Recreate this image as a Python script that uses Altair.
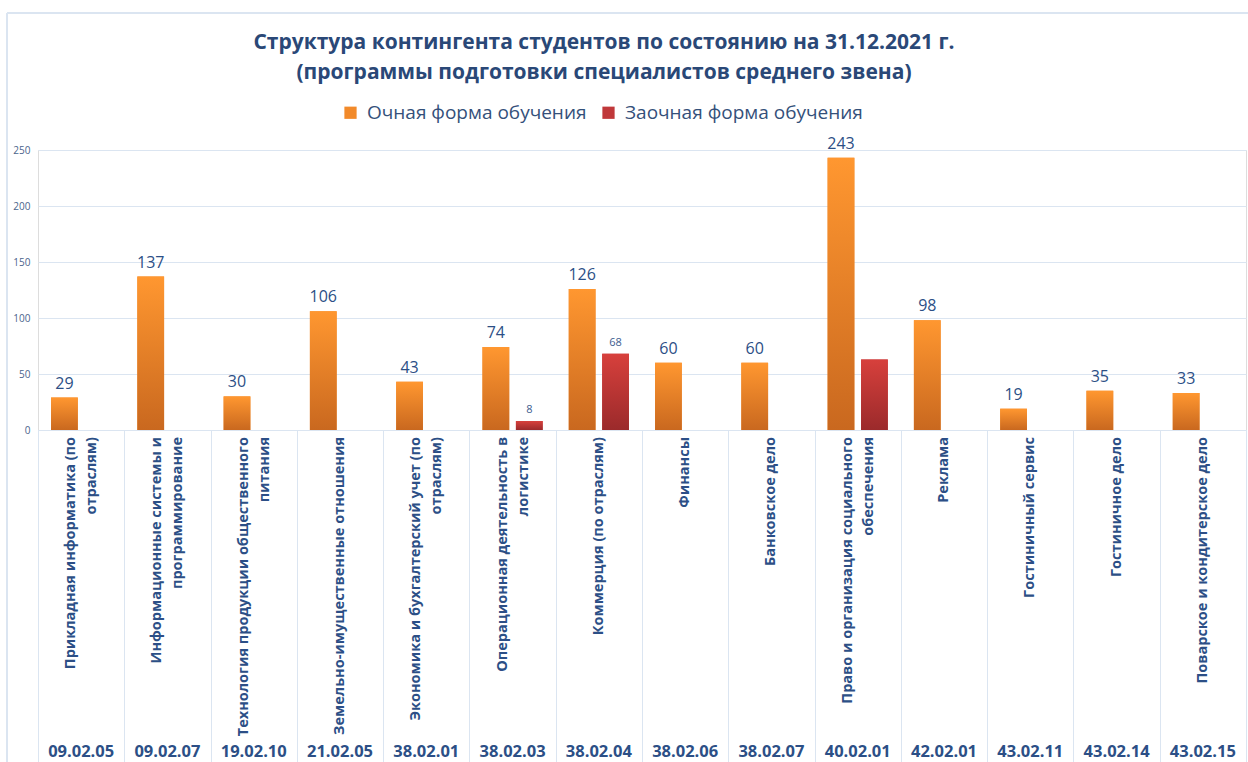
import altair as alt
import pandas as pd

codes = ["09.02.05", "09.02.07", "19.02.10", "21.02.05", "38.02.01", "38.02.03", "38.02.04",
         "38.02.06", "38.02.07", "40.02.01", "42.02.01", "43.02.11", "43.02.14", "43.02.15"]
names = [
    "Прикладная информатика (по|отраслям)",
    "Информационные системы и|программирование",
    "Технология продукции общественного|питания",
    "Земельно-имущественные отношения",
    "Экономика и бухгалтерский учет (по|отраслям)",
    "Операционная деятельность в|логистике",
    "Коммерция (по отраслям)",
    "Финансы",
    "Банковское дело",
    "Право и организация социального|обеспечения",
    "Реклама",
    "Гостиничный сервис",
    "Гостиничное дело",
    "Поварское и кондитерское дело",
]
ochnaya = [29, 137, 30, 106, 43, 74, 126, 60, 60, 243, 98, 19, 35, 33]
zaochnaya = [0, 0, 0, 0, 0, 8, 68, 0, 0, 63, 0, 0, 0, 0]
zaochnaya_labels = ["", "", "", "", "", "8", "68", "", "", "", "", "", "", ""]
series = ["Очная форма обучения", "Заочная форма обучения"]
y_ticks = [0, 50, 100, 150, 200, 250]

rows = []
for c, n, o, z, zl in zip(codes, names, ochnaya, zaochnaya, zaochnaya_labels):
    rows.append({"code": c, "name": n, "series": series[0], "value": o, "label": str(o),
                 "multi": "|" in n})
    rows.append({"code": c, "name": n, "series": series[1], "value": z, "label": zl,
                 "multi": "|" in n})
df = pd.DataFrame(rows)

FONT = "Open Sans"
BLUE = "#2c4f86"
GRID = "#dbe5f1"

x_enc = alt.X("name:N", sort=names, scale=alt.Scale(paddingInner=0, paddingOuter=0),
              axis=alt.Axis(title=None, labels=False, tickBand="extent", tickSize=332,
                            tickColor=GRID, domainColor=GRID, grid=False))
xo_enc = alt.XOffset("series:N", sort=series,
                     scale=alt.Scale(domain=series, paddingInner=0.2, paddingOuter=0.39))
y_enc = alt.Y("value:Q", scale=alt.Scale(domain=[0, 250]),
              axis=alt.Axis(title=None, values=y_ticks, labelFont=FONT, labelFontSize=10,
                            labelColor="#4a648c", ticks=False, domain=False, gridColor=GRID,
                            labelPadding=8))

base = alt.Chart(df).encode(x=x_enc, xOffset=xo_enc, y=y_enc)

legend_bars = base.transform_filter("datum.value > 0").mark_bar().encode(
    color=alt.Color("series:N", sort=series,
                    scale=alt.Scale(domain=series, range=["#f28a2a", "#c0383a"]),
                    legend=alt.Legend(title=None, orient="none", legendX=303, legendY=-47,
                                      direction="horizontal", labelFont=FONT, labelFontSize=19,
                                      labelColor="#34507a", symbolType="square", symbolSize=150,
                                      symbolStrokeWidth=0, columnPadding=12, labelOffset=7,
                                      labelLimit=0))
)

grad_o = alt.Gradient(gradient="linear", x1=0, x2=0, y1=0, y2=1,
                      stops=[alt.GradientStop(color="#ff9730", offset=0),
                             alt.GradientStop(color="#c9681f", offset=1)])
grad_z = alt.Gradient(gradient="linear", x1=0, x2=0, y1=0, y2=1,
                      stops=[alt.GradientStop(color="#d7403c", offset=0),
                             alt.GradientStop(color="#9b2a2b", offset=1)])

bars_o = base.transform_filter(alt.datum.series == series[0]).mark_bar(color=grad_o)
bars_z = base.transform_filter(f"datum.series == '{series[1]}' && datum.value > 0").mark_bar(color=grad_z)

text_o = base.transform_filter(alt.datum.series == series[0]).mark_text(
    dy=-14, font=FONT, fontSize=16, color=BLUE).encode(text="label:N")
text_z = base.transform_filter(f"datum.series == '{series[1]}' && datum.label != ''").mark_text(
    dy=-11, font=FONT, fontSize=11, color="#3d5d8f").encode(text="label:N")

first = alt.Chart(df).transform_filter(alt.datum.series == series[0])

code_text = first.mark_text(
    font=FONT, fontSize=16.5, fontWeight="bold", color=BLUE, baseline="middle"
).encode(x=alt.X("name:N", sort=names), y=alt.value(602), text="code:N")

name_style = dict(font=FONT, fontSize=14.5, fontWeight="bold", color=BLUE, angle=270,
                  align="right", baseline="middle", lineBreak="|", lineHeight=21)
names_single = first.transform_filter("!datum.multi").mark_text(**name_style).encode(
    x=alt.X("name:N", sort=names), y=alt.value(287), text="name:N")
names_multi = first.transform_filter("datum.multi").mark_text(dy=-10, **name_style).encode(
    x=alt.X("name:N", sort=names), y=alt.value(287), text="name:N")

frame_left = alt.Chart(df).mark_rule(color=GRID, strokeWidth=1.5).encode(
    x=alt.value(-31), y=alt.value(-137), y2=alt.value(612))
frame_top = alt.Chart(df).mark_rule(color=GRID, strokeWidth=1.5).encode(
    x=alt.value(-31), x2=alt.value(1215), y=alt.value(-137))

chart = alt.layer(frame_left, frame_top, legend_bars, bars_o, bars_z, text_o, text_z,
                  names_single, names_multi, code_text).properties(
    width=1208, height=280,
    title=alt.TitleParams(
        text=["Структура контингента студентов по состоянию на 31.12.2021 г.",
              "(программы подготовки специалистов среднего звена)"],
        font=FONT, fontSize=21, fontWeight="bold", color="#2a4877", anchor="middle",
        frame="group", offset=-71, dx=-38, lineHeight=30),
    autosize=alt.AutoSizeParams(type="none"),
    padding={"left": 38, "top": 150, "right": 2, "bottom": 332},
).configure_view(stroke=None).configure(background="white")

chart.save("out.html", embed_options={"renderer": "svg", "actions": False})
